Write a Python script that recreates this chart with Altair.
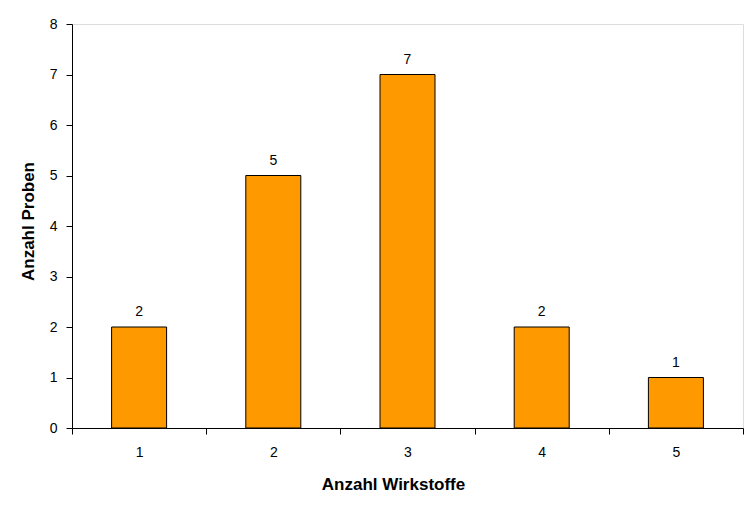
import altair as alt
import pandas as pd

categories = ["1", "2", "3", "4", "5"]
values = [2, 5, 7, 2, 1]

df = pd.DataFrame({"Wirkstoffe": categories, "Proben": values})

FONT = "Liberation Sans"

x = alt.X(
    "Wirkstoffe:N",
    sort=categories,
    scale=alt.Scale(paddingInner=0, paddingOuter=0),
    axis=alt.Axis(
        title="Anzahl Wirkstoffe",
        labelAngle=0,
        tickBand="extent",
        tickSize=6,
        labelPadding=11,
        titlePadding=17,
        titleX=321,
        domainColor="black",
        tickColor="black",
        labelColor="black",
        labelFontSize=14,
        titleFontSize=17,
        titleFontWeight="bold",
        labelFont=FONT,
        titleFont=FONT,
        titleColor="black",
    ),
)
y = alt.Y(
    "Proben:Q",
    scale=alt.Scale(domain=[0, 8]),
    axis=alt.Axis(
        title="Anzahl Proben",
        values=[0, 1, 2, 3, 4, 5, 6, 7, 8],
        grid=False,
        tickSize=6,
        labelPadding=9,
        titlePadding=12,
        titleY=197,
        domainColor="black",
        tickColor="black",
        labelColor="black",
        labelFontSize=14,
        titleFontSize=17,
        titleFontWeight="bold",
        labelFont=FONT,
        titleFont=FONT,
        titleColor="black",
    ),
)

bars = alt.Chart(df).mark_bar(
    color="#FF9900", stroke="black", strokeWidth=1, size=55
).encode(x=x, y=y)

labels = alt.Chart(df).mark_text(
    baseline="bottom", dy=-8, fontSize=14, font=FONT, color="black"
).encode(x=x, y=y, text="Proben:Q")

chart = (
    (bars + labels)
    .properties(
        width=671,
        height=404,
        autosize=alt.AutoSizeParams(type="none"),
        padding={"left": 64, "top": 16, "right": 1, "bottom": 74},
    )
    .configure_view(stroke="black", strokeWidth=1)
    .configure(background="white")
)

chart.save("out.html", embed_options={"renderer": "svg", "actions": False})
